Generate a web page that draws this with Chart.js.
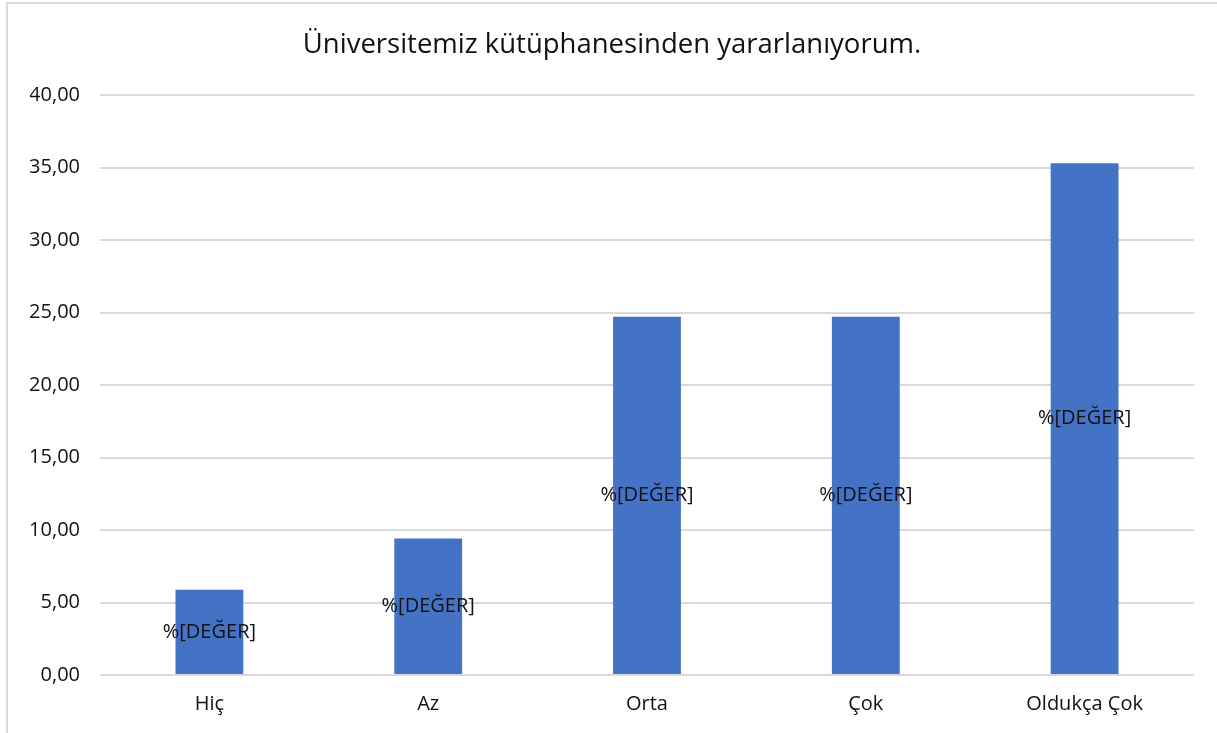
<!DOCTYPE html>
<html>
<head>
<meta charset="utf-8">
<script src="https://cdn.jsdelivr.net/npm/chart.js@4/dist/chart.umd.min.js"></script>
<style>
  html, body { margin: 0; padding: 0; background: #fff; }
  #wrap { position: relative; width: 1217px; height: 733px; }
  #frame { position: absolute; left: 6px; top: 2px; right: 0; bottom: 0;
           border-top: 2px solid #d9d9d9; border-left: 2px solid #d9d9d9; pointer-events: none; }
</style>
</head>
<body>
<div id="wrap">
  <canvas id="chart" width="1217" height="733"></canvas>
  <div id="frame"></div>
</div>
<script>
'use strict';

// ── Data ────────────────────────────────────────────────
const TITLE      = 'Üniversitemiz kütüphanesinden yararlanıyorum.';
const CATEGORIES = ['Hiç', 'Az', 'Orta', 'Çok', 'Oldukça Çok'];
const VALUES     = [5.88, 9.41, 24.71, 24.71, 35.29];
const BAR_LABEL  = '%[DEĞER]';
const Y_MAX      = 40;
const Y_STEP     = 5;

const FONT = "'Open Sans', sans-serif";
const BAR_COLOR = '#4472C4';
const GRID_COLOR = '#d9d9d9';

// ── Label plugin: text centred in each bar ─────────────
const barLabels = {
    id: 'barLabels',
    afterDatasetsDraw(chart) {
        const { ctx } = chart;
        const meta = chart.getDatasetMeta(0);
        ctx.save();
        ctx.font = `20px ${FONT}`;
        ctx.fillStyle = '#111';
        ctx.textAlign = 'center';
        ctx.textBaseline = 'middle';
        meta.data.forEach(bar => {
            ctx.fillText(BAR_LABEL, bar.x, (bar.y + bar.base) / 2);
        });
        ctx.restore();
    }
};

new Chart(document.getElementById('chart').getContext('2d'), {
    type: 'bar',
    data: {
        labels: CATEGORIES,
        datasets: [{
            data: VALUES,
            backgroundColor: BAR_COLOR,
            borderWidth: 0,
            categoryPercentage: 1,
            barPercentage: 0.31,
        }]
    },
    options: {
        responsive: false,
        animation: false,
        layout: { padding: { left: 30, right: 23, top: 0, bottom: 0 } },
        plugins: {
            legend: { display: false },
            tooltip: { enabled: false },
            title: {
                display: true,
                text: TITLE,
                color: '#111',
                font: { family: FONT, size: 27.5, weight: 'normal' },
                padding: { top: 29, bottom: 33 }
            }
        },
        scales: {
            x: {
                grid: { display: false, drawTicks: false },
                border: { display: false },
                ticks: { color: '#111', font: { family: FONT, size: 20 }, padding: 17 }
            },
            y: {
                min: 0, max: Y_MAX,
                afterFit: s => { s.width = 70; },
                grid: { color: GRID_COLOR, lineWidth: 2, drawTicks: false },
                border: { display: false },
                ticks: {
                    stepSize: Y_STEP,
                    padding: 20,
                    color: '#111',
                    font: { family: FONT, size: 20 },
                    callback: v => v.toFixed(2).replace('.', ',')
                }
            }
        }
    },
    plugins: [barLabels]
});
</script>
</body>
</html>
